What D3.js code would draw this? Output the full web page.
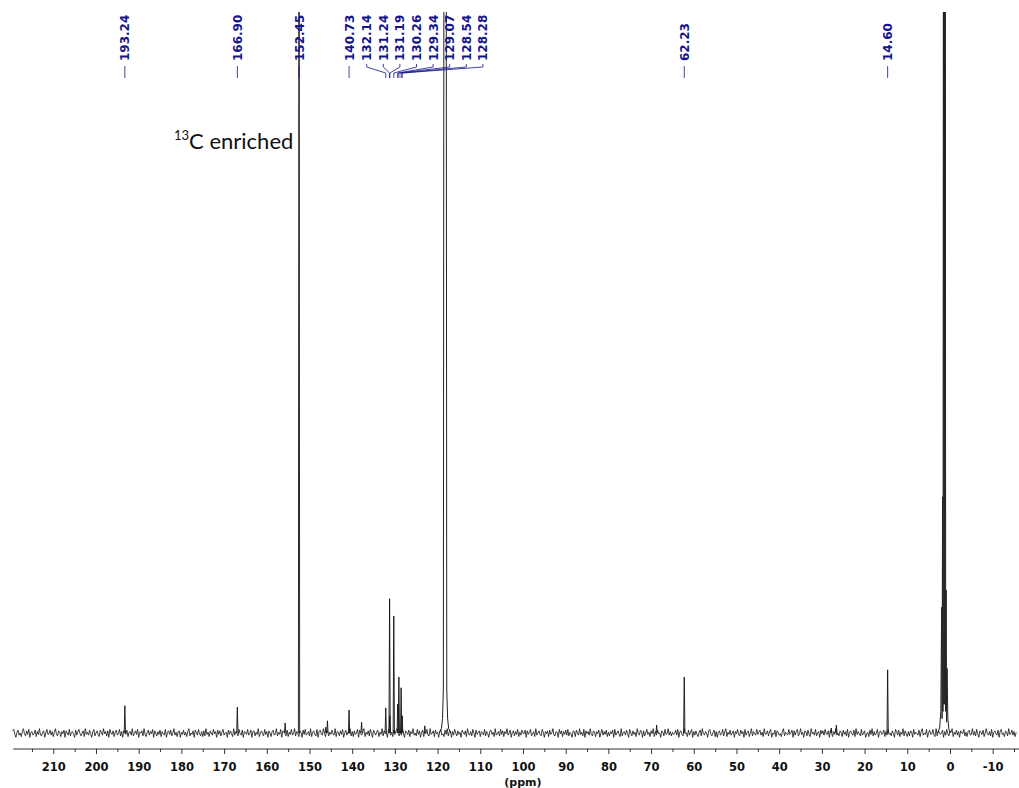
<!DOCTYPE html>
<html>
<head>
<meta charset="utf-8">
<script src="https://cdn.jsdelivr.net/npm/d3@7"></script>
<style>
  body { margin: 0; background: #fff; }
  svg { display: block; }
</style>
</head>
<body>
<script>
// 13C NMR spectrum (ppm axis reversed)
const majorTicks = [210, 200, 190, 180, 170, 160, 150, 140, 130, 120, 110, 100, 90, 80, 70, 60, 50, 40, 30, 20, 10, 0, -10];
const minorTicks = [215, 205, 195, 185, 175, 165, 155, 145, 135, 125, 115, 105, 95, 85, 75, 65, 55, 45, 35, 25, 15, 5, -5, -15];

// peak picking labels
const labelValues = [193.24, 166.90, 152.45, 140.73, 132.14, 131.24, 131.19, 130.26, 129.34, 129.07, 128.54, 128.28, 62.23, 14.60];
const groupedLabels = [132.14, 131.24, 131.19, 130.26, 129.34, 129.07, 128.54, 128.28];

// sharp lines: [ppm, intensity]
const peaks = [
  [193.24, 38], [166.90, 36], [155.70, 14], [152.45, 1300], [146.20, 8], [145.80, 17],
  [140.73, 32], [137.80, 15], [132.14, 35], [131.24, 187], [131.19, 24], [130.26, 163],
  [129.34, 40], [129.07, 78], [128.54, 63], [128.28, 24], [123.00, 10],
  [68.70, 11], [62.23, 78], [27.80, 7], [26.60, 11], [14.60, 88]
];

// CD3CN solvent lines, read as profiles
const solventNitrile = [
  [119.6, 0], [119.1, 6], [118.85, 20], [118.65, 60], [118.5, 1300], [118.0, 1300],
  [117.85, 60], [117.65, 20], [117.4, 6], [116.9, 0]
];
const solventMethyl = [
  [2.8, 0], [2.4, 8], [2.15, 30], [1.95, 175], [1.85, 20], [1.74, 329], [1.64, 30],
  [1.53, 1300], [1.42, 40], [1.32, 1300], [1.22, 40], [1.11, 1300], [1.0, 30],
  [0.9, 199], [0.8, 15], [0.69, 90], [0.5, 20], [0.25, 5], [-0.1, 0]
];

// baseline noise, sampled every 0.25 ppm from 219.5 ppm
const noiseStart = 219.5;
const noiseStep = 0.25;
const noise = [
  3,5,-2,-6,1,4,-3,0,-5,2,6,-1,-4,3,-2,5,-6,1,2,-3,
  -1,4,-5,2,-2,6,-3,-4,1,3,-6,0,5,-2,-1,4,-3,2,-5,1,
  6,-2,-4,3,1,-5,2,-1,4,-6,3,0,-3,5,-4,1,2,-2,-6,4,
  -3,2,5,-1,-4,0,3,-5,6,-2,1,-3,4,-1,-6,2,5,-4,0,3,
  -2,-5,4,1,-3,6,-1,2,-4,3,-6,5,0,-2,3,-5,1,4,-3,-1,
  5,-4,2,-6,3,0,-2,4,-5,1,2,-3,6,-4,-1,3,-2,5,-6,1,
  0,3,-4,6,-2,-5,1,4,-3,2,-1,5,-6,3,0,-4,2,-2,4,-5,
  2,-1,-3,5,-6,1,3,-2,4,-4,0,6,-3,1,-5,2,3,-6,1,-2,
  4,-3,1,-5,2,6,-4,0,-2,3,-6,4,1,-3,5,-1,-4,2,-5,3,
  -4,6,-2,1,-5,3,0,-3,5,-1,2,-6,4,-2,3,-4,1,5,-3,0,
  1,-6,4,-2,3,-1,-5,6,-3,2,0,-4,5,-1,-3,4,-6,2,1,-2,
  5,-3,-1,4,-6,2,3,-4,1,-2,6,-5,0,3,-1,-4,5,-2,2,-6,
  3,0,-5,2,4,-3,-1,6,-4,1,-2,5,-6,3,2,-1,-4,4,-5,1,
  -2,5,-3,-1,6,-4,2,0,-5,3,1,-6,4,-2,5,-3,-1,2,-4,6,
  -5,1,3,-2,-4,5,-6,2,4,-1,-3,6,0,-5,2,3,-4,1,-2,4,
  -1,-3,6,-5,2,1,-4,3,-2,5,-6,0,4,-3,1,-1,6,-4,2,-5,
  3,-2,0,5,-6,4,-1,-3,2,6,-5,1,-2,3,-4,5,-1,-6,4,0,
  -3,2,4,-5,1,-2,6,-4,3,-1,0,-6,5,2,-3,1,-5,4,-2,3,
  6,-1,-4,2,-3,5,0,-6,3,1,-2,4,-5,2,-1,6,-3,0,-4,5,
  -2,3,-6,1,4,-5,2,-1,5,-3,-4,6,-2,0,3,-5,4,-1,1,-6,
  2,5,-3,-1,-5,4,-2,6,-4,1,3,-6,2,-3,5,0,-4,3,-2,1,
  -6,4,1,-2,3,-5,6,-1,-3,2,-4,5,0,-6,4,-2,1,3,-5,2,
  0,-3,5,-4,2,-1,-6,3,4,-2,1,-5,6,-3,-1,2,-4,5,-2,3,
  -5,2,-1,6,-3,0,4,-6,1,3,-4,2,-2,5,-5,1,-3,4,0,-1,
  4,-6,3,-2,1,5,-4,-1,2,-5,6,-3,0,3,-2,-4,5,1,-6,2,
  -1,3,-5,4,-2,0,6,-3,-4,2,1,-6,5,-1,3,-5,2,-2,4,-3,
  5,-4,1,-1,-6,3,2,-5,4,0,-3,6,-2,1,-4,5,-6,3,-1,2,
  -3,6,-2,-4,3,1,-5,2,-1,4,-6,0,5,-3,2,-2,4,-5,1,-4,
  2,-1,4,-6,5,-3,0,3,-2,-5,6,-4,1,2,-3,4,-1,-6,5,0,
  -4,3,-2,1,-5,6,-1,-3,4,2,-6,3,-4,0,5,-2,1,-5,3,-1,
  6,-5,2,-3,4,-1,0,-6,3,1,-4,5,-2,-1,6,-3,2,-4,1,-2,
  -1,4,-3,5,-6,2,3,-2,-4,6,-1,0,-5,4,-3,1,5,-6,2,-3,
  3,-2,-5,1,4,-4,6,-1,-3,2,0,-6,3,5,-2,-4,1,4,-5,2,
  -6,1,3,-3,-1,5,-4,2,6,-5,1,-2,4,-3,0,3,-6,2,-1,5,
  -2,-4,4,-1,2,-6,5,-3,1,3,-5,0,6,-4,2,-1,-3,5,-2,1,
  4,-3,1,-5,6,-2,-1,3,-4,2,5,-6,0,-2,4,-5,3,1,-3,-1,
  -5,2,6,-4,1,-1,-3,5,-2,0,4,-6,3,-3,2,5,-4,-1,6,-2,
  1,-6,3,2,-4,4,-2,-5,6,-1,1,-3,5,-4,0,2,-6,4,-1,3,
  -3,5,-1,-2,3,-6,4,1,-5,2,-2,6,-3,0,-4,3,1,-5,4,-2,
  2,-4,5,-6,1,3,-1,-3,4,-5,6,-2,2,-1,-4,5,-3,0,3,-6,
  -1,1,-5,4,-2,6,-4,2,-3,0,5,-6,1,3,-2,-1,4,-5,2,-3,
  5,-2,0,-4,3,-1,-6,5,2,-3,4,-5,1,-2,6,-4,3,-1,-5,2,
  -4,3,2,-6,5,-2,1,-1,-3,4,-5,2,6,-3,0,-2,5,-6,1,4,
  -2,-1,5,-3,-5,6,-4,3,1,-2,0,4,-6,2,-3,5,-1,-4,3,1,
  6,-5,1,-2,4,-3,2,-6,3,0,-1,5,-4,1,-5,2,4,-3,-2,6,
  -3,2,-4,5,-1,-6,3,1,-2,4,-5,0,6,-1,-3,2,-4,5,-6,1,
  3,-1,-3,4,-6,2,5,-2,0,-5,3,1,-4,6,-2,-1,4,-3,2,-5,
  1
];

const width = 1019, height = 788;
const svg = d3.select("body").append("svg")
  .attr("width", width)
  .attr("height", height);

const x = d3.scaleLinear().domain([220, -16]).range([10.6, 1018.3]);
const y = d3.scaleLinear().domain([0, 1000]).range([733, 15]);

svg.append("defs").append("clipPath").attr("id", "plotClip")
  .append("rect").attr("x", 0).attr("y", 12).attr("width", width).attr("height", 740);

const plot = svg.append("g").attr("clip-path", "url(#plotClip)");
const line = d3.line().x(d => x(d[0])).y(d => y(d[1]));

const noisePts = noise.map((v, i) => [noiseStart - i * noiseStep, v]);
plot.append("path").datum(noisePts)
  .attr("d", line).attr("fill", "none").attr("stroke", "#111").attr("stroke-width", 0.8);

plot.selectAll(".peak").data(peaks).enter().append("path")
  .attr("class", "peak")
  .attr("d", p => line([[p[0] + 0.15, 0], [p[0], p[1]], [p[0] - 0.15, 0]]))
  .attr("fill", "none").attr("stroke", "#111").attr("stroke-width", 0.9);

[solventNitrile, solventMethyl].forEach(prof => {
  plot.append("path").datum(prof)
    .attr("d", line).attr("fill", "none").attr("stroke", "#222").attr("stroke-width", 1);
});

// axis
const axisY = 749;
const tickFont = "DejaVu Sans, Verdana, sans-serif";
const axisG = svg.append("g").attr("transform", `translate(0,${axisY})`);
axisG.append("line")
  .attr("x1", x(219.4)).attr("x2", width).attr("y1", 0).attr("y2", 0)
  .attr("stroke", "#333");
const majorAxis = d3.axisBottom(x).tickValues(majorTicks).tickSize(5).tickPadding(9)
  .tickFormat(d => d);
axisG.append("g").call(majorAxis)
  .call(g => g.select(".domain").remove())
  .call(g => g.selectAll("line").attr("stroke", "#333"))
  .call(g => g.selectAll("text")
    .attr("font-family", tickFont)
    .attr("font-weight", "bold").attr("font-size", 11.5).attr("fill", "#111"));
axisG.append("g").call(d3.axisBottom(x).tickValues(minorTicks).tickSize(3).tickFormat(""))
  .call(g => g.select(".domain").remove())
  .call(g => g.selectAll("line").attr("stroke", "#333"));

svg.append("text")
  .attr("x", x(100)).attr("y", 786)
  .attr("text-anchor", "middle")
  .attr("font-family", tickFont)
  .attr("font-weight", "bold").attr("font-size", 11).attr("fill", "#111")
  .text("(ppm)");

// peak labels
const labelColor = "#14148c";
const groupX0 = 366.7, groupGap = 16.6;
const labelG = svg.append("g");
labelValues.forEach(v => {
  const gi = groupedLabels.indexOf(v);
  const px = x(v);
  const lx = gi >= 0 ? groupX0 + gi * groupGap : px;
  labelG.append("text")
    .attr("transform", `translate(${lx + 4.5},61) rotate(-90)`)
    .attr("font-family", tickFont)
    .attr("font-weight", "bold").attr("font-size", 12)
    .attr("fill", labelColor)
    .text(v.toFixed(2));
  const conn = gi >= 0
    ? d3.line()([[lx, 64], [lx, 67], [px, 73], [px, 78]])
    : d3.line()([[px, 66], [px, 78]]);
  labelG.append("path").attr("d", conn)
    .attr("fill", "none").attr("stroke", labelColor).attr("stroke-width", 0.8);
});

// annotation
const note = svg.append("text")
  .attr("x", 174).attr("y", 149)
  .attr("font-family", "Lato, 'Open Sans', sans-serif")
  .attr("font-size", 22).attr("fill", "#111");
note.append("tspan").attr("font-size", 13).attr("dy", -9).text("13");
note.append("tspan").attr("dy", 9).text("C enriched");
</script>
</body>
</html>
